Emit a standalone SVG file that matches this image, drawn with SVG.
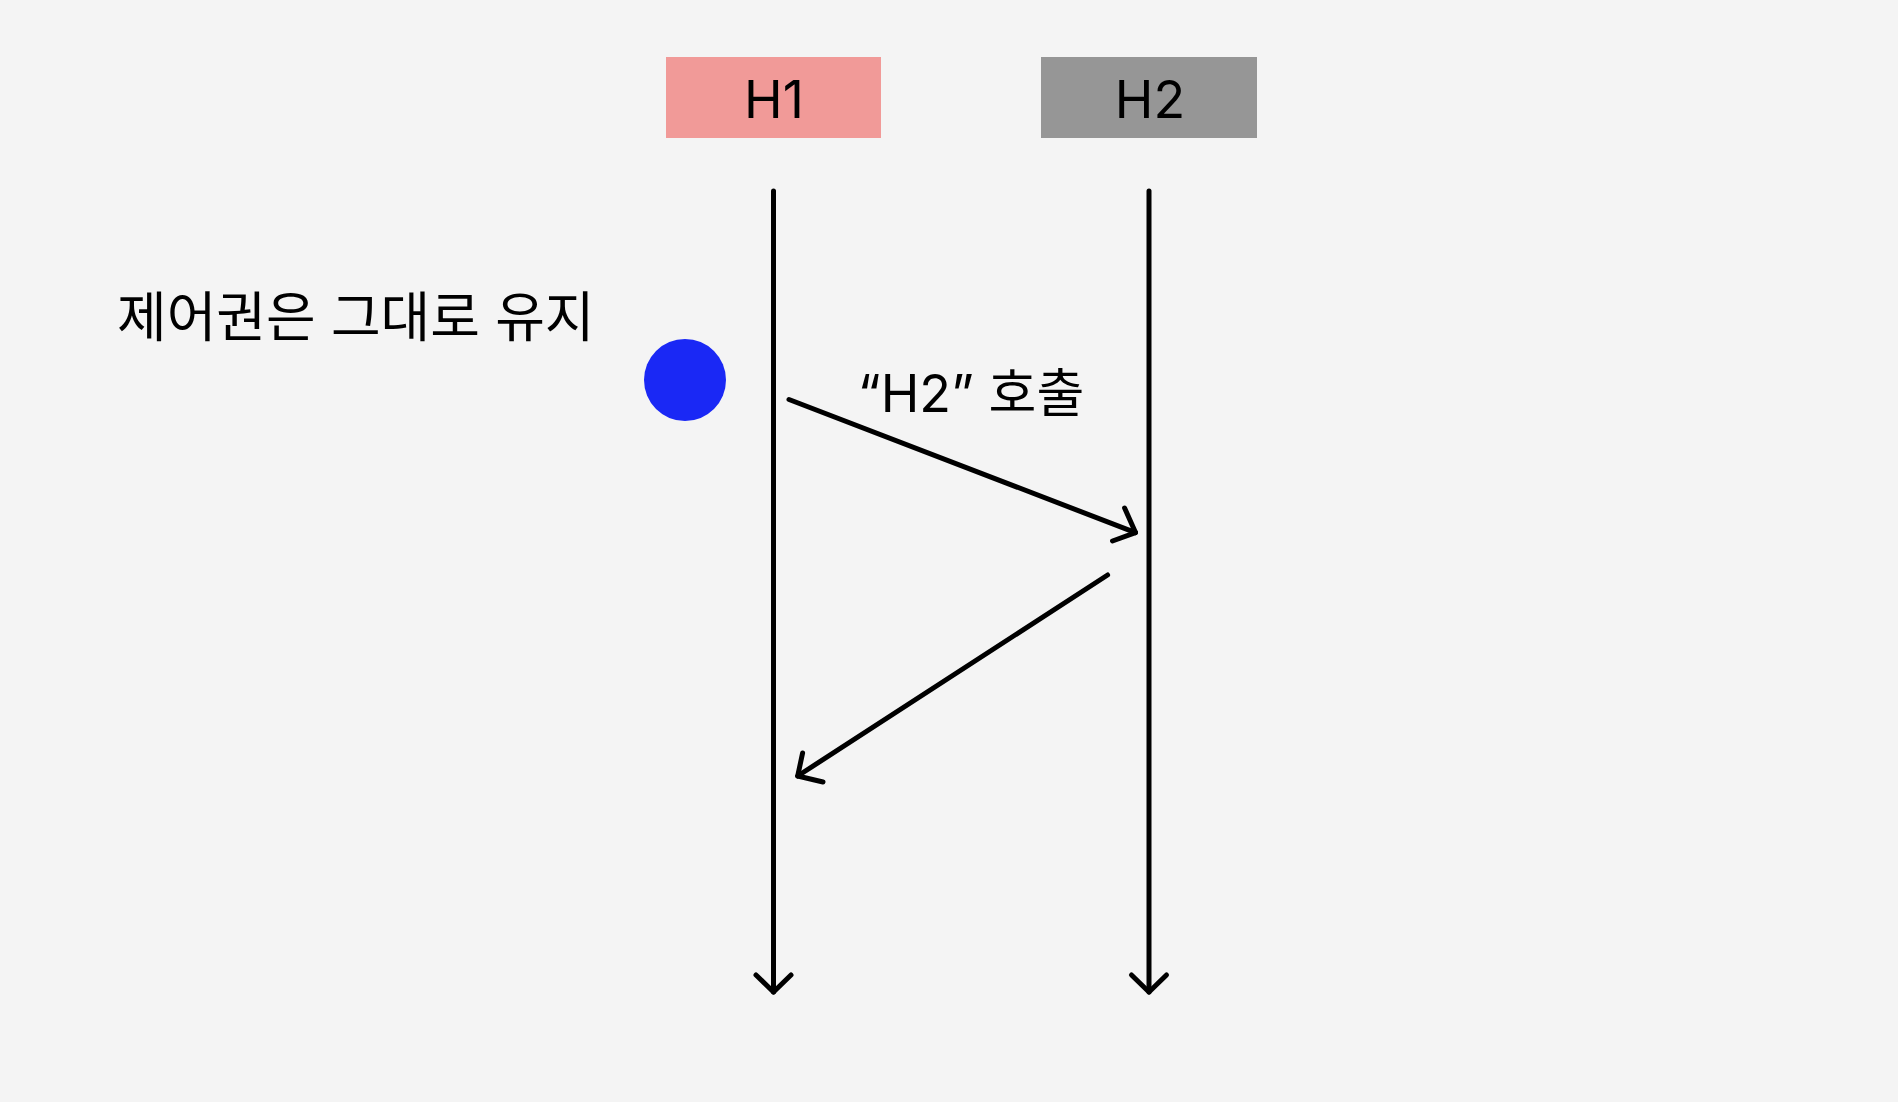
<svg xmlns="http://www.w3.org/2000/svg" width="1898" height="1102" viewBox="0 0 1898 1102">
<defs>
<style>
.lbl{font-family:Inter,"Noto Sans CJK KR",sans-serif;font-size:52px;fill:#000}
.ln{stroke:#000;stroke-width:5;fill:none;stroke-linecap:round;stroke-linejoin:round}
</style>
</defs>
<rect width="1898" height="1102" fill="#f4f4f4"/>
<g id="H1">
<rect x="666" y="57" width="215" height="81" fill="#f19a98"/>
<text class="lbl" x="774" y="118" text-anchor="middle">H1</text>
</g>
<g id="H2">
<rect x="1041" y="57" width="216" height="81" fill="#969696"/>
<text class="lbl" x="1150" y="118" text-anchor="middle">H2</text>
</g>
<g id="marker-dot">
<circle cx="685" cy="380" r="41" fill="#1a28f5"/>
</g>
<g id="note">
<text class="lbl" x="117" y="337" style="font-size:54px">제어권은 그대로 유지</text>
</g>
<g id="connectors">
<path class="ln" d="M773.5,191 V992" />
<path class="ln" d="M756,975 L773.5,992 L791,975"/>
<path class="ln" d="M1149,191 V992" />
<path class="ln" d="M1131.5,975 L1149,992 L1166.5,975"/>
<path class="ln" d="M789,399.5 L1135.5,532.6"/>
<path class="ln" d="M1124.6,508 L1135.5,532.6 L1112.5,541"/>
<path class="ln" d="M1107.6,575 L797.7,776"/>
<path class="ln" d="M802.6,753 L797.7,776 L823,782"/>
<text class="lbl" x="971" y="412" text-anchor="middle">“H2” 호출</text>
</g>
</svg>
